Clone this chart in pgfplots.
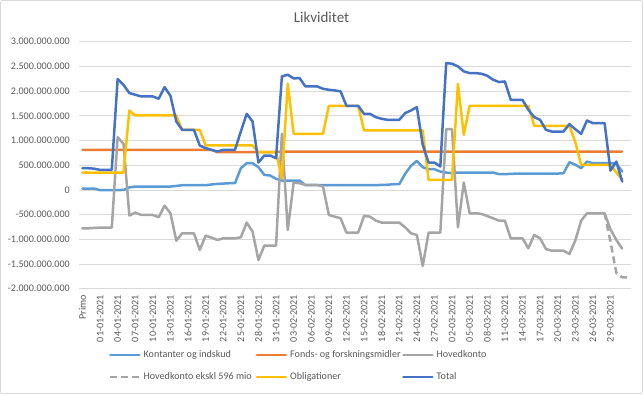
\documentclass[border=0pt]{standalone}
\usepackage{fontspec}
\setmainfont{Carlito}
\usepackage{pgfplots}
\usepackage{pgfplotstable}
\pgfplotsset{compat=1.18}
\definecolor{cK}{HTML}{5B9BD5}
\definecolor{cF}{HTML}{ED7D31}
\definecolor{cH}{HTML}{A5A5A5}
\definecolor{cO}{HTML}{FFC000}
\definecolor{cT}{HTML}{4472C4}
\definecolor{txt}{HTML}{595959}
\definecolor{gridc}{HTML}{D9D9D9}

\pgfplotstableread{
x K F H O T
0 27 811 -777 351 439
1 27 811 -777 351 439
2 27 811 -770 351 430
3 -5 811 -764 351 405
4 -5 811 -764 351 405
5 -5 811 -764 351 405
6 -5 811 1068 351 2243
7 0 811 932 351 2128
8 50 811 -520 1608 1960
9 68 811 -459 1507 1926
10 68 811 -507 1507 1892
11 68 811 -507 1507 1892
12 68 811 -507 1507 1892
13 68 811 -554 1507 1845
14 68 811 -318 1507 2081
15 68 811 -473 1507 1905
16 80 811 -1027 1507 1385
17 95 811 -878 1216 1216
18 95 811 -878 1216 1216
19 95 811 -878 1216 1216
20 95 811 -1216 1216 899
21 95 811 -926 899 845
22 110 811 -966 899 811
23 122 764 -1014 899 777
24 128 764 -980 899 811
25 135 764 -980 899 811
26 135 764 -980 899 811
27 439 764 -960 899 1182
28 541 764 -662 899 1540
29 541 764 -845 899 1385
30 459 764 -1419 764 554
31 304 764 -1128 764 696
32 291 764 -1128 764 696
33 223 764 -1128 764 642
34 189 777 1135 230 2297
35 189 777 -811 2149 2331
36 189 777 149 1135 2257
37 189 777 135 1135 2264
38 95 777 101 1135 2095
39 95 777 101 1135 2095
40 95 777 101 1135 2095
41 95 777 68 1135 2047
42 95 777 -507 1703 2027
43 95 777 -541 1703 2014
44 95 777 -574 1703 1993
45 95 777 -865 1703 1703
46 95 777 -865 1703 1703
47 95 777 -865 1703 1703
48 95 777 -527 1203 1540
49 95 777 -541 1203 1540
50 98 777 -622 1203 1473
51 100 777 -662 1203 1439
52 105 777 -662 1203 1419
53 115 777 -662 1203 1419
54 115 777 -662 1203 1419
55 324 777 -757 1203 1554
56 486 777 -878 1203 1608
57 588 777 -912 1203 1676
58 459 777 -1541 1203 912
59 419 777 -865 203 554
60 419 777 -865 203 554
61 372 777 -865 203 473
62 351 777 1230 203 2568
63 338 777 1230 203 2554
64 351 777 -757 2149 2500
65 351 777 149 1115 2399
66 351 777 -473 1703 2365
67 351 777 -473 1703 2365
68 351 777 -486 1703 2351
69 351 777 -530 1703 2311
70 351 777 -574 1703 2230
71 318 777 -622 1703 2183
72 318 777 -622 1703 2196
73 325 777 -980 1703 1824
74 330 777 -980 1703 1824
75 330 777 -980 1703 1824
76 330 777 -1182 1703 1622
77 330 777 -912 1297 1473
78 330 777 -980 1297 1419
79 330 777 -1196 1297 1216
80 330 777 -1230 1297 1182
81 330 777 -1230 1297 1182
82 338 777 -1230 1297 1182
83 561 777 -1297 1297 1331
84 510 777 -1027 970 1230
85 440 777 -622 506 1135
86 573 777 -473 506 1405
87 541 777 -473 506 1351
88 541 777 -473 506 1351
89 541 777 -473 506 1351
90 541 777 -800 506 391
91 530 777 -1013 354 573
92 371 777 -1190 202 169
}\data

\begin{document}
\begin{tikzpicture}[x=1pt,y=1pt]
\path[use as bounding box] (0,0) rectangle (643,394);
\draw[gridc, line width=0.8pt, rounded corners=2pt] (0.5,0.5) rectangle (642.5,393.5);
\node[font=\fontsize{15}{18}\selectfont, text=txt] at (321.5,376.5) {Likviditet};
\begin{axis}[
  at={(79.5pt,105.3pt)}, anchor=south west,
  scale only axis, width=551.5pt, height=247pt,
  xmin=-0.5, xmax=93.5, ymin=-2000, ymax=3000,
  xtick={0,3,...,90},
  xticklabels={Primo,01-01-2021,04-01-2021,07-01-2021,10-01-2021,13-01-2021,16-01-2021,19-01-2021,22-01-2021,25-01-2021,28-01-2021,31-01-2021,03-02-2021,06-02-2021,09-02-2021,12-02-2021,15-02-2021,18-02-2021,21-02-2021,24-02-2021,27-02-2021,02-03-2021,05-03-2021,08-03-2021,11-03-2021,14-03-2021,17-03-2021,20-03-2021,23-03-2021,26-03-2021,29-03-2021},
  ytick={-2000,-1500,...,3000},
  yticklabels={-2.000.000.000,-1.500.000.000,-1.000.000.000,-500.000.000,0,500.000.000,1.000.000.000,1.500.000.000,2.000.000.000,2.500.000.000,3.000.000.000},
  ymajorgrids, grid style={gridc, line width=0.8pt},
  axis line style={draw=none},
  major tick length=0pt,
  tick label style={font=\fontsize{10.1}{12}\selectfont, text=txt, inner sep=0pt},
  xticklabel style={rotate=90, anchor=east},
  yticklabel style={anchor=east},
  xticklabel shift=6pt,
  yticklabel shift=9.5pt,
  every axis plot/.append style={line width=2.5pt, line join=round},
  legend columns=3,
  legend image code/.code={\draw[#1] (0pt,0pt) -- (29pt,0pt);},
  legend style={draw=none, fill=none, at={(0.048,-0.313)}, anchor=west,
    font=\fontsize{10.1}{12}\selectfont, text=txt, row sep=13pt,
    /tikz/every even column/.append style={column sep=0pt},
    nodes={inner sep=0pt, text height=7pt, text depth=2pt}},
]
\addplot[cK, line cap=round] table[x=x, y=K]{\data};
\addlegendentry{\makebox[115pt][l]{\hspace*{3pt}Kontanter og indskud}}
\addplot[cF, line cap=round] table[x=x, y=F]{\data};
\addlegendentry{\makebox[115pt][l]{\hspace*{3pt}Fonds- og forskningsmidler}}
\addplot[cH, line cap=round] table[x=x, y=H]{\data};
\addlegendentry{\makebox[115pt][l]{\hspace*{3pt}Hovedkonto}}
\addplot[cH, dash pattern=on 7pt off 4pt] coordinates {(89,-473) (90,-1050) (91,-1680) (92,-1770) (93,-1770)};
\addlegendentry{\makebox[115pt][l]{\hspace*{3pt}Hovedkonto ekskl 596 mio}}
\addplot[cO, line cap=round] table[x=x, y=O]{\data};
\addlegendentry{\makebox[115pt][l]{\hspace*{3pt}Obligationer}}
\addplot[cT, line cap=round] table[x=x, y=T]{\data};
\addlegendentry{\makebox[115pt][l]{\hspace*{3pt}Total}}
\end{axis}
\end{tikzpicture}
\end{document}
